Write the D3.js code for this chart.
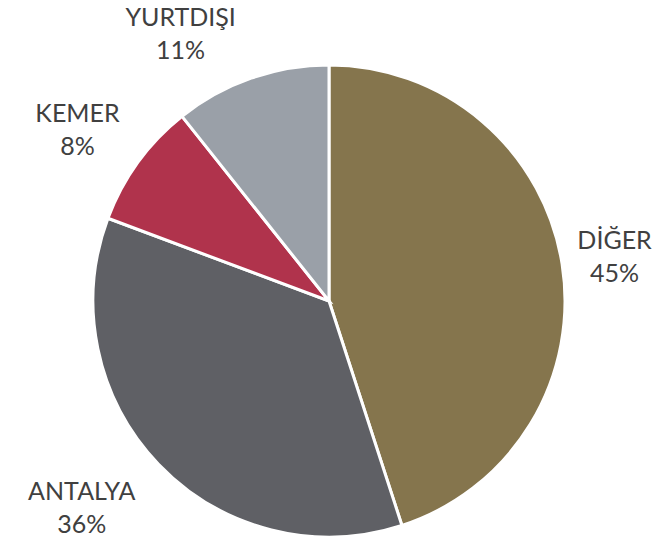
<!DOCTYPE html>
<html>
<head>
<meta charset="utf-8">
<script src="https://cdn.jsdelivr.net/npm/d3@7"></script>
<style>
  html, body { margin: 0; padding: 0; background: #fff; }
  text { font-family: Lato, 'Open Sans', sans-serif; }
</style>
</head>
<body>
<div id="chart"></div>
<script>
const categories = ['DİĞER', 'ANTALYA', 'KEMER', 'YURTDIŞI']
const shares = [45.0, 35.7, 8.6, 10.7]
const shareLabels = ['45%', '36%', '8%', '11%']
const colors = ['#85754d', '#5f6065', '#b0334c', '#9aa0a8']

// label nudges (px) away from the default label ring, like the original layout
const labelNudge = [[9, -8], [-45, 5], [-25, -14], [-56, -11]]

const width = 663, height = 541
const cx = 329, cy = 301, radius = 236, labelRadius = 280

const svg = d3.select('#chart').append('svg')
  .attr('width', width)
  .attr('height', height)

const data = categories.map((c, i) => ({ name: c, value: shares[i], label: shareLabels[i], color: colors[i], i }))

const pie = d3.pie().value(d => d.value).sort(null)
const arc = d3.arc().innerRadius(0).outerRadius(radius)
const labelArc = d3.arc().innerRadius(labelRadius).outerRadius(labelRadius)

const arcs = pie(data)

const g = svg.append('g').attr('transform', `translate(${cx},${cy})`)

g.selectAll('path')
  .data(arcs)
  .enter()
  .append('path')
  .attr('d', arc)
  .attr('fill', d => d.data.color)
  .attr('stroke', '#fff')
  .attr('stroke-width', 3)

const labels = g.selectAll('.lbl')
  .data(arcs)
  .enter()
  .append('text')
  .attr('class', 'lbl')
  .attr('text-anchor', 'middle')
  .style('font-size', '25px')
  .attr('fill', '#404040')
  .attr('transform', d => {
    const [x, y] = labelArc.centroid(d)
    const n = labelNudge[d.data.i]
    return `translate(${x + n[0]},${y + n[1]})`
  })

labels.append('tspan').attr('x', 0).attr('y', 0).text(d => d.data.name)
labels.append('tspan').attr('x', 0).attr('y', 33).text(d => d.data.label)
</script>
</body>
</html>
